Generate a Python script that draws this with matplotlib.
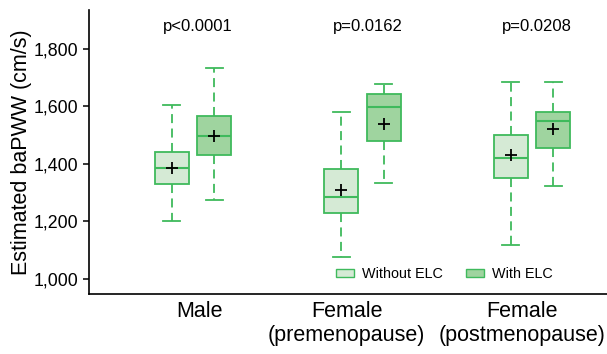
import matplotlib
matplotlib.use("Agg")
import matplotlib.pyplot as plt
import matplotlib.ticker as mticker
from matplotlib.patches import Patch

plt.rcParams['font.family'] = ['Liberation Sans', 'DejaVu Sans']

# -------- data --------
groups = ["Male", "Female\n(premenopause)", "Female\n(postmenopause)"]
p_values = ["p<0.0001", "p=0.0162", "p=0.0208"]

# Without ELC
wo_lo = [1200, 1077, 1118]
wo_q1 = [1330, 1229, 1350]
wo_med = [1387, 1285, 1421]
wo_q3 = [1443, 1382, 1502]
wo_hi = [1605, 1582, 1683]
wo_mean = [1386, 1311, 1431]

# With ELC
w_lo = [1275, 1335, 1325]
w_q1 = [1430, 1481, 1457]
w_med = [1497, 1598, 1550]
w_q3 = [1566, 1643, 1582]
w_hi = [1733, 1677, 1685]
w_mean = [1496, 1540, 1521]

edge = '#3fba5c'
light = '#d5ead5'
dark = '#9fd49f'

def make_stats(lo, q1, med, q3, hi, mean):
    return [dict(whislo=a, q1=b, med=c, q3=d, whishi=e, mean=f, fliers=[])
            for a, b, c, d, e, f in zip(lo, q1, med, q3, hi, mean)]

fig = plt.figure(figsize=(6.07, 3.54), dpi=100)
ax = fig.add_axes([0.1466, 0.1695, 0.8534, 0.8023])

offset = 0.125
width = 0.2
x = range(len(groups))

for stats, shift, fill in [(make_stats(wo_lo, wo_q1, wo_med, wo_q3, wo_hi, wo_mean), -offset, light),
                           (make_stats(w_lo, w_q1, w_med, w_q3, w_hi, w_mean), offset, dark)]:
    ax.bxp(stats, positions=[i + shift for i in x], widths=width,
           patch_artist=True, showmeans=True, showfliers=False,
           boxprops=dict(facecolor=fill, edgecolor=edge, linewidth=1.3),
           medianprops=dict(color=edge, linewidth=1.5),
           whiskerprops=dict(color=edge, linewidth=1.3, linestyle=(0, (5, 3))),
           capprops=dict(color=edge, linewidth=1.3),
           meanprops=dict(marker='+', markeredgecolor='black', markersize=9, markeredgewidth=1.3))

for i, p in zip(x, p_values):
    ax.text(i + 0.03, 1876, p, ha='center', va='center', fontsize=12)

ax.set_xlim(-0.614, 2.442)
ax.set_ylim(948, 1935)
ax.set_yticks([1000, 1200, 1400, 1600, 1800])
ax.yaxis.set_major_formatter(mticker.StrMethodFormatter('{x:,.0f}'))
ax.tick_params(axis='y', labelsize=12.8, length=4, width=1.1)
ax.set_xticks([0.04, 0.906, 1.94])
ax.set_xticklabels(groups, fontsize=15.5)
ax.tick_params(axis='x', length=0, pad=5)
ax.set_ylabel("Estimated baPWW (cm/s)", fontsize=15.5, labelpad=1.5)

for s in ['top', 'right']:
    ax.spines[s].set_visible(False)
for s in ['left', 'bottom']:
    ax.spines[s].set_linewidth(1.2)

handles = [Patch(facecolor=light, edgecolor=edge, label='Without ELC'),
           Patch(facecolor=dark, edgecolor=edge, label='With ELC')]
ax.legend(handles=handles, loc='center', bbox_to_anchor=(0.687, 0.07), ncol=2,
          frameon=False, fontsize=10.4, handlelength=1.2, handleheight=0.5,
          columnspacing=1.6, handletextpad=0.6)

fig.savefig("out.png", dpi=100)
